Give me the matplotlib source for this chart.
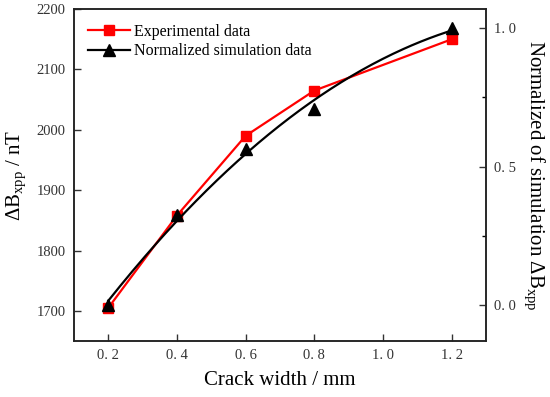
import numpy as np
import matplotlib
matplotlib.use("Agg")
import matplotlib.pyplot as plt
from matplotlib.ticker import MultipleLocator

plt.rcParams["font.family"] = ["Liberation Serif", "DejaVu Serif"]
plt.rcParams["mathtext.fontset"] = "custom"
plt.rcParams["mathtext.rm"] = "Liberation Serif"
plt.rcParams["mathtext.it"] = "Liberation Serif:italic"

# crack width (mm)
crack_width = [0.2, 0.4, 0.6, 0.8, 1.2]
# measured delta B_xpp (nT)
experimental = [1705, 1858, 1990, 2065, 2150]
# normalized simulation delta B_xpp
simulation = [0.0, 0.326, 0.565, 0.707, 1.0]

x_ticks = [0.2, 0.4, 0.6, 0.8, 1.0, 1.2]
x_ticklabels = ["0. 2", "0. 4", "0. 6", "0. 8", "1. 0", "1. 2"]
y_ticks = [1700, 1800, 1900, 2000, 2100, 2200]
y2_ticks = [0.0, 0.5, 1.0]
y2_ticklabels = ["0. 0", "0. 5", "1. 0"]

fig = plt.figure(figsize=(5.5, 3.97), dpi=100)
ax = fig.add_axes([0.1345, 0.141, 0.749, 0.836])
ax2 = ax.twinx()

lred, = ax.plot(crack_width, experimental, color="#ff0000", lw=1.6, marker="s",
                ms=6.5, label="Experimental data", zorder=2)

# smooth trend through the simulation points (quadratic fit of the data)
coef = np.polyfit(crack_width, simulation, 2)
xs = np.linspace(crack_width[0], crack_width[-1], 200)
ax2.plot(xs, np.polyval(coef, xs), color="black", lw=1.6, zorder=3)
ax2.plot(crack_width, simulation, ls="none", marker="^", color="black", ms=8, zorder=4)
lblk, = ax2.plot([], [], color="black", lw=1.6, marker="^", ms=8,
                 label="Normalized simulation data")

ax.set_xlim(0.1, 1.3)
ax.set_ylim(1650, 2200)
ax2.set_ylim(-0.130, 1.069)

ax.set_xticks(x_ticks)
ax.set_xticklabels(x_ticklabels)
ax.set_yticks(y_ticks)
ax2.set_yticks(y2_ticks)
ax2.set_yticklabels(y2_ticklabels)
ax2.yaxis.set_minor_locator(MultipleLocator(0.25))

for a in (ax, ax2):
    a.tick_params(direction="in", length=5, width=1.0, labelsize=10.5, pad=6,
                  colors="#333333", labelcolor="#333333")
    a.tick_params(which="minor", direction="in", length=3, width=1.0)
    for s in a.spines.values():
        s.set_linewidth(1.1)
        s.set_color("#222222")

ax.set_xlabel("Crack width / mm", fontsize=15, labelpad=6)
ax.set_ylabel(r"$\Delta\mathrm{B}_{\mathrm{xpp}}$ / nT", fontsize=15, labelpad=6)
ax2.set_ylabel(r"Normalized of simulation $\Delta\mathrm{B}_{\mathrm{xpp}}$",
               fontsize=15, rotation=270, labelpad=22)

ax2.legend(handles=[lred, lblk], loc="upper left", frameon=False, fontsize=11.5,
           handlelength=2.6, handletextpad=0.25, labelspacing=0.25,
           borderaxespad=0.5, bbox_to_anchor=(0.0, 1.0))

fig.savefig("out.png", dpi=100)
